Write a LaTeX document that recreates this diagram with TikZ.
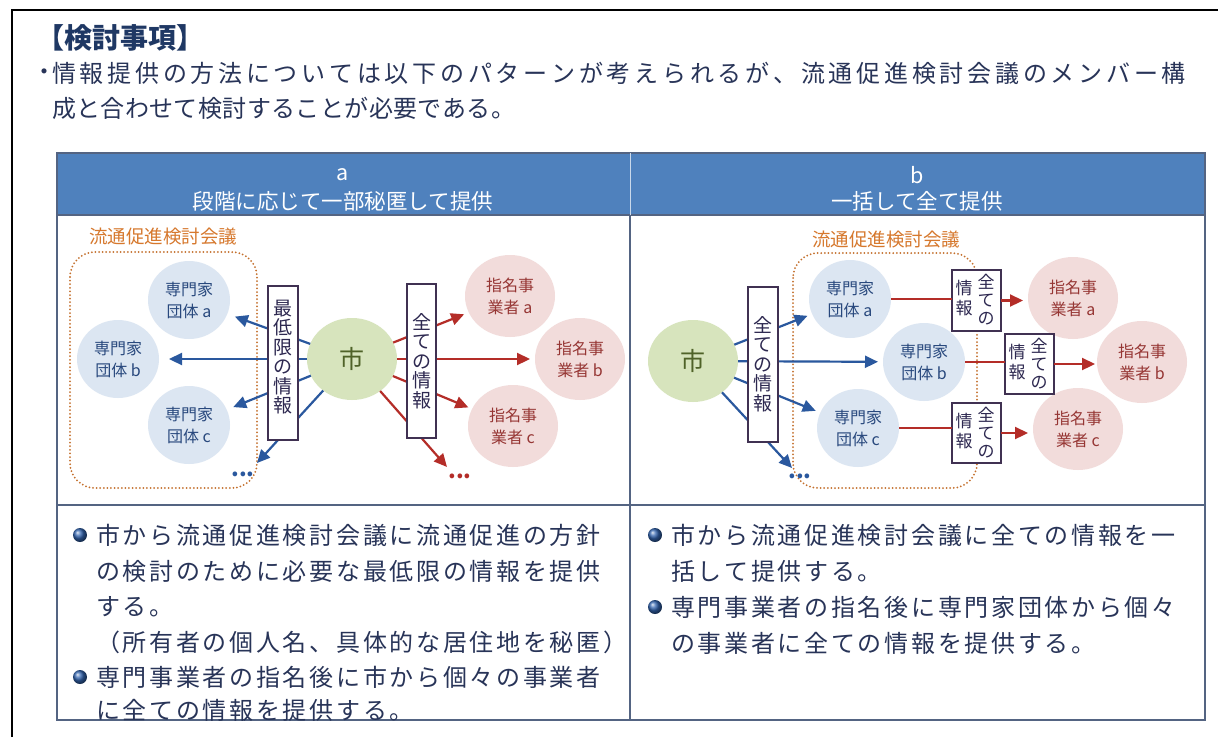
\documentclass[tikz,border=0pt]{standalone}
\usepackage{fontspec}
\setmainfont{Noto Sans CJK JP}
\usetikzlibrary{shapes.geometric,arrows.meta}
\definecolor{hdrB}{RGB}{79,129,189}
\definecolor{tblL}{RGB}{84,100,130}
\definecolor{ttlC}{RGB}{31,56,100}
\definecolor{txtC}{RGB}{40,52,88}
\definecolor{orgC}{RGB}{214,120,45}
\definecolor{dotC}{RGB}{196,112,45}
\definecolor{shiF}{RGB}{215,228,189}
\definecolor{shiT}{RGB}{79,98,40}
\definecolor{grpF}{RGB}{220,230,242}
\definecolor{grpT}{RGB}{40,72,125}
\definecolor{desF}{RGB}{242,220,219}
\definecolor{desT}{RGB}{150,54,52}
\definecolor{arrB}{RGB}{42,88,158}
\definecolor{arrR}{RGB}{180,45,40}
\definecolor{boxC}{RGB}{64,49,82}
\definecolor{boxT}{RGB}{45,40,80}
\definecolor{bulC}{RGB}{50,100,175}
\makeatletter
\newcommand\pitched[2]{\@tfor\pitchtok:=#2\do{\makebox[#1][l]{\pitchtok}}}
\makeatother
\begin{document}
\begin{tikzpicture}[x=1pt,y=-1pt,
 every node/.style={inner sep=0pt,outer sep=0pt},
 shinode/.style={ellipse,fill=shiF,minimum width=90pt,minimum height=82pt,text=shiT,font=\fontsize{25}{25}\selectfont},
 grpnode/.style={ellipse,fill=grpF,minimum width=82pt,minimum height=78pt,text=grpT,font=\fontsize{16}{22}\selectfont,align=center},
 desnode/.style={ellipse,fill=desF,minimum width=90pt,minimum height=82pt,text=desT,font=\fontsize{16}{22}\selectfont,align=center},
 vframe/.style={draw=boxC,line width=1.5pt,fill=white},
 vtext/.style={text=boxT,align=center,font=\fontsize{19}{19.5}\selectfont},
 stext/.style={text=boxT,align=center,font=\fontsize{17}{18}\selectfont},
 barrow/.style={draw=arrB,line width=2.2pt,-{Triangle[length=13pt,width=12pt]}},
 rarrow/.style={draw=arrR,line width=2.2pt,-{Triangle[length=13pt,width=12pt]}},
 rline/.style={draw=arrR,line width=2.2pt},
 orglabel/.style={text=orgC,font=\fontsize{18.5}{18.5}\selectfont},
 meeting/.style={draw=dotC,line width=2pt,dash pattern=on 0pt off 3.6pt,line cap=round,rounded corners=25pt},
 bodytext/.style={anchor=west,text=txtC,font=\fontsize{24}{24}\selectfont},
 bullet/.style={circle,minimum size=14pt,shading=ball,ball color=bulC},
 hdrtext/.style={text=white,font=\fontsize{21.5}{21.5}\selectfont},
 dotsB/.style={text=arrB,font=\fontsize{22}{22}\selectfont\bfseries},
 dotsR/.style={text=arrR,font=\fontsize{22}{22}\selectfont\bfseries},
]
\useasboundingbox (0,0) rectangle (1218,737);
\fill[white] (0,0) rectangle (1218,737);
% outer frame
\draw[line width=2.5pt] (12,737) -- (12,10) -- (1218,10);
% intro
\node[anchor=west,text=ttlC,font=\fontsize{28}{28}\selectfont\bfseries] (title) at (36,38) {【検討事項】};
\node[text=txtC,font=\fontsize{24}{24}\selectfont] (dot1) at (44,75) {・};
\node[bodytext] (intro1) at (52,73) {\pitched{27.75pt}{情報提供の方法については以下のパターンが考えられるが、流通促進検討会議のメンバー構}};
\node[bodytext] (intro2) at (52,108) {\pitched{24.4pt}{成と合わせて検討することが必要である。}};
% table
\fill[hdrB] (57,153) rectangle (1205,215);
\draw[tblL,line width=1.5pt] (57,153) rectangle (1205,720);
\draw[tblL,line width=1.2pt] (57,215) -- (1205,215);
\draw[tblL,line width=1.2pt] (57,505) -- (1205,505);
\draw[tblL,line width=1.2pt] (630,215) -- (630,720);
\draw[white!70!hdrB,line width=1pt] (630,153) -- (630,215);
\node[hdrtext] (ha) at (343,175) {a};
\node[hdrtext] (hat) at (343,201) {段階に応じて一部秘匿して提供};
\node[hdrtext] (hb) at (917,175) {b};
\node[hdrtext] (hbt) at (917,201) {一括して全て提供};
% ---- left diagram ----
\node[orglabel] (mtgLlabel) at (163,237) {流通促進検討会議};
\draw[meeting] (70,252) rectangle (257,488);
\node[grpnode] (gA) at (189,300) {専門家\\団体 a};
\node[grpnode] (gB) at (118,359) {専門家\\団体 b};
\node[grpnode] (gC) at (189,425) {専門家\\団体 c};
\node[shinode] (shiL) at (352,359) {市};
\node[desnode] (dA) at (510,296) {指名事\\業者 a};
\node[desnode] (dB) at (580,359) {指名事\\業者 b};
\node[desnode] (dC) at (513,426) {指名事\\業者 c};
\coordinate (dlbTip) at (257,463);
\coordinate (drrTip) at (447,467);
\node[dotsB] (dlb) at (243,474) {...};
\node[dotsR] (drr) at (460,476) {...};
\draw[barrow,shorten >=8pt] (shiL) -- (gA);
\draw[barrow,shorten >=10pt] (shiL) -- (gB);
\draw[barrow,shorten >=7pt] (shiL) -- (gC);
\draw[barrow] (shiL) -- (dlbTip);
\draw[rarrow,shorten >=5pt] (shiL) -- (dA);
\draw[rarrow,shorten >=5pt] (shiL) -- (dB);
\draw[rarrow,shorten >=4pt] (shiL) -- (dC);
\draw[rarrow] (shiL) -- (drrTip);
\node[vframe,minimum width=30pt,minimum height=154pt] (infoL) at (283,363) {};
\node[vtext] (infoLt) at (283,357) {最\\低\\限\\の\\情\\報};
\node[vframe,minimum width=29pt,minimum height=154pt] (allL) at (421.5,361) {};
\node[vtext] (allLt) at (421.5,361) {全\\て\\の\\情\\報};
% ---- right diagram ----
\node[orglabel] (mtgRlabel) at (886,240) {流通促進検討会議};
\draw[meeting] (793,253) rectangle (977,488);
\node[shinode] (shiR) at (693,361) {市};
\node[grpnode] (rA) at (850,299) {専門家\\団体 a};
\node[grpnode] (rB) at (924,362) {専門家\\団体 b};
\node[grpnode] (rC) at (858,428) {専門家\\団体 c};
\node[desnode] (eA) at (1073,298) {指名事\\業者 a};
\node[desnode] (eB) at (1142,362) {指名事\\業者 b};
\node[desnode] (eC) at (1078,429) {指名事\\業者 c};
\coordinate (drbTip) at (792,468);
\node[dotsB] (drb) at (800,476) {...};
\draw[barrow,shorten >=5pt] (shiR) -- (rA);
\draw[barrow,shorten >=5pt] (shiR) -- (rB);
\draw[barrow,shorten >=5pt] (shiR) -- (rC);
\draw[barrow] (shiR) -- (drbTip);
\node[vframe,minimum width=30pt,minimum height=155pt] (allR) at (763,364.5) {};
\node[vtext] (allRt) at (763,364) {全\\て\\の\\情\\報};
\node[vframe,minimum width=49pt,minimum height=61pt] (ia) at (976.5,300.5) {};
\node[vframe,minimum width=49pt,minimum height=60pt] (ib) at (1029.5,364) {};
\node[vframe,minimum width=49pt,minimum height=60pt] (ic) at (976.5,433) {};
\node[stext] (iaR) at (986,300) {全\\て\\の};
\node[stext,font=\fontsize{17}{20}\selectfont] (iaL) at (964,298) {情\\報};
\node[stext] (ibR) at (1039,364) {全\\て\\の};
\node[stext,font=\fontsize{17}{20}\selectfont] (ibL) at (1017,362) {情\\報};
\node[stext] (icR) at (986,433) {全\\て\\の};
\node[stext,font=\fontsize{17}{20}\selectfont] (icL) at (964,431) {情\\報};
\draw[rline] (rA.east) -- (ia.west |- rA.east);
\draw[rline] (rB.east) -- (ib.west |- rB.east);
\draw[rline] (rC.east) -- (ic.west |- rC.east);
\draw[rarrow,shorten >=5pt] (ia.east) -- (eA.west |- ia.east);
\draw[rarrow,shorten >=2pt] (ib.east) -- (eB.west |- ib.east);
\draw[rarrow,shorten >=5pt] (ic.east) -- (eC.west |- ic.east);
% ---- bottom texts ----
\node[bullet] (bL1) at (80,535) {};
\node[bodytext] (tL1) at (96,535) {\pitched{26.7pt}{市から流通促進検討会議に流通促進の方針}};
\node[bodytext] (tL2) at (96,571) {\pitched{26.7pt}{の検討のために必要な最低限の情報を提供}};
\node[bodytext] (tL3) at (96,607) {\pitched{26.7pt}{する。}};
\node[bodytext] (tL4) at (96,642) {\pitched{26.7pt}{（所有者の個人名、具体的な居住地を秘匿）}};
\node[bullet] (bL2) at (80,677) {};
\node[bodytext] (tL5) at (96,677) {\pitched{26.7pt}{専門事業者の指名後に市から個々の事業者}};
\node[bodytext] (tL6) at (96,710) {\pitched{26.7pt}{に全ての情報を提供する。}};
\node[bullet] (bR1) at (655,535) {};
\node[bodytext] (tR1) at (671,535) {\pitched{26.7pt}{市から流通促進検討会議に全ての情報を一}};
\node[bodytext] (tR2) at (671,571) {\pitched{26.7pt}{括して提供する。}};
\node[bullet] (bR2) at (655,607) {};
\node[bodytext] (tR3) at (671,607) {\pitched{26.7pt}{専門事業者の指名後に専門家団体から個々}};
\node[bodytext] (tR4) at (671,643) {\pitched{26.7pt}{の事業者に全ての情報を提供する。}};
\end{tikzpicture}
\end{document}
